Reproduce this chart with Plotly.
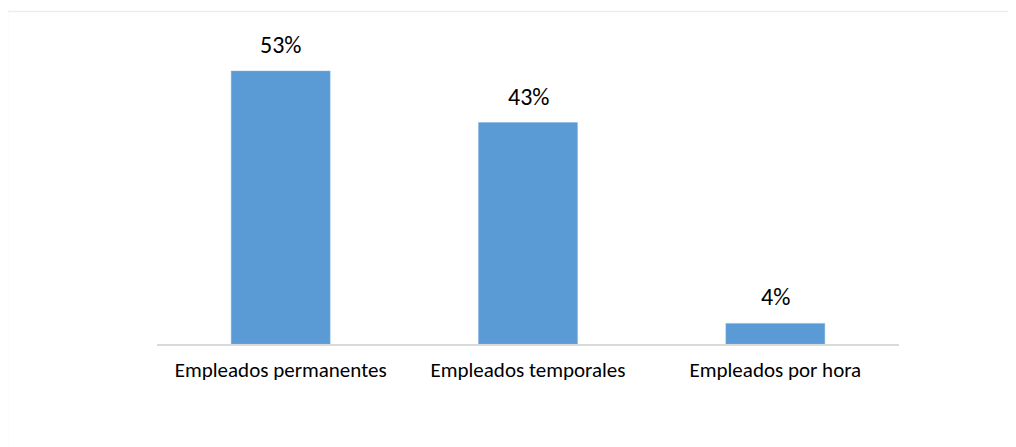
import plotly.graph_objects as go

categories = ["Empleados permanentes", "Empleados temporales", "Empleados por hora"]
values = [53, 43, 4]
labels = ["53%", "43%", "4%"]

FONT = "Carlito, Lato, 'Liberation Sans', sans-serif"

fig = go.Figure()
fig.add_trace(go.Bar(
    x=categories, y=values,
    marker=dict(color="#5B9BD5", line=dict(color="#7FB0DF", width=0.5)),
    width=0.4, hoverinfo="skip",
))

for c, v, t in zip(categories, values, labels):
    fig.add_annotation(x=c, y=v, text=t, showarrow=False, yanchor="bottom",
                       yshift=10, font=dict(family=FONT, size=24, color="#000000"))

# page has an 8px body margin; compensate so plot area lands at the reference position
OFF = 8
W, H = 1016, 447
L, R, T, B = 157 - OFF, 1016 - (899 - OFF), 35 - OFF, 447 - (344 - OFF)
pw, ph = W - L - R, H - T - B

def px_to_paper_x(px):
    return (px - OFF - L) / pw

def px_to_paper_y(py):
    return (H - B - (py - OFF)) / ph

fig.add_shape(type="rect", xref="paper", yref="paper",
              x0=px_to_paper_x(7.5), x1=px_to_paper_x(1040),
              y0=px_to_paper_y(480), y1=px_to_paper_y(11.5),
              line=dict(color="#EDEDED", width=1.5), fillcolor="rgba(0,0,0,0)", layer="below")

fig.update_layout(
    width=W, height=H, margin=dict(l=L, r=R, t=T, b=B),
    paper_bgcolor="white", plot_bgcolor="white", showlegend=False,
    font=dict(family=FONT, size=21, color="#000000"),
)
fig.update_xaxes(showline=True, linecolor="#D9D9D9", linewidth=1.5, ticks="",
                 tickfont=dict(family=FONT, size=21, color="#000000"), showgrid=False,
                 ticklabelstandoff=6)
fig.update_yaxes(range=[0, 60], visible=False, showgrid=False, zeroline=False)

fig.write_html("out.html")
